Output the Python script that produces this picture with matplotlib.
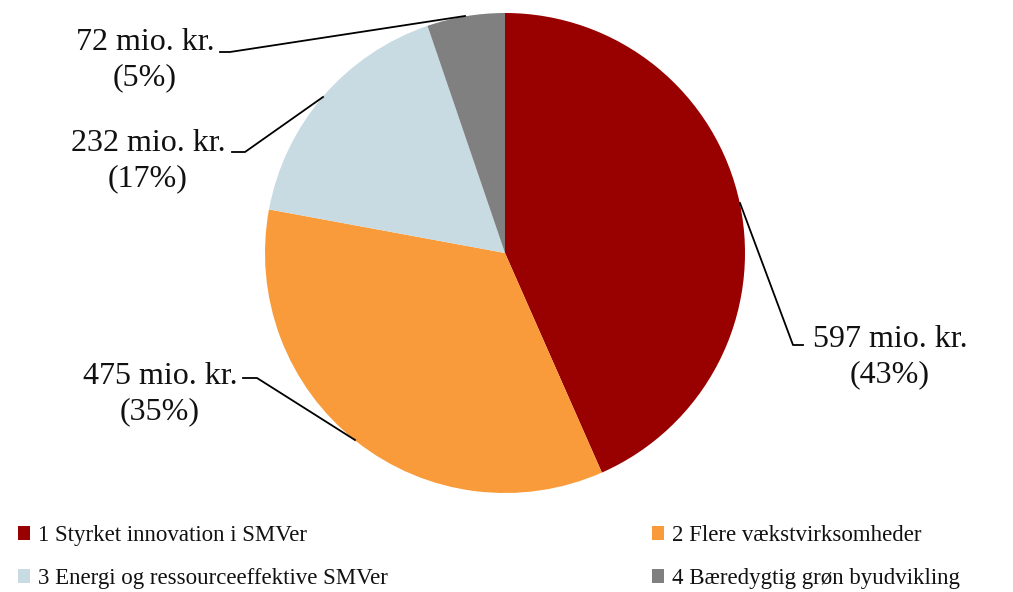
import numpy as np
import matplotlib.pyplot as plt

# data
labels = ["1 Styrket innovation i SMVer", "2 Flere vækstvirksomheder",
          "3 Energi og ressourceeffektive SMVer", "4 Bæredygtig grøn byudvikling"]
values = [597, 475, 232, 72]
pcts = [43, 35, 17, 5]
colors = ["#990000", "#F99B3A", "#C8DBE2", "#808080"]

W, H = 1013, 592
cx, cy, R = 505, 253, 240

fig = plt.figure(figsize=(W / 100, H / 100), dpi=100)
ax = fig.add_axes([(cx - R) / W, (H - cy - R) / H, 2 * R / W, 2 * R / H])
wedges, _ = ax.pie(values, colors=colors, startangle=90, counterclock=False,
                   radius=1, wedgeprops=dict(linewidth=0))
ax.set_xlim(-1, 1)
ax.set_ylim(-1, 1)
ax.axis("off")

def d(px, py):
    # pixel -> data coords
    return (px - cx) / R, (cy - py) / R

font = dict(family="Liberation Serif", fontsize=23, color="#111111")

# label positions (pixel): text anchor and leader line points
lab = [
    dict(text=(890, 357), line=[(740, 203), (793, 345), (803, 345)]),
    dict(text=(160, 394), line=[(355, 440), (257, 378), (243, 378)]),
    dict(text=(148, 161), line=[(323, 97), (245, 152), (232, 152)]),
    dict(text=(145, 60), line=[(465, 16), (230, 52), (220, 52)]),
]

for v, p, L in zip(values, pcts, lab):
    pts = np.array([d(*q) for q in L["line"]])
    ax.plot(pts[:, 0], pts[:, 1], color="black", lw=1.3, clip_on=False)
    tx, ty = d(*L["text"])
    ax.text(tx, ty, f"{v} mio. kr.\n({p}%)", ha="center", va="center",
            linespacing=1.28, clip_on=False, **font)

order = [0, 2, 1, 3]
leg = fig.legend([wedges[i] for i in order], [labels[i] for i in order],
                 ncol=2, loc="lower left", bbox_to_anchor=(-0.003, -0.03),
                 frameon=False, handlelength=0.55, handleheight=0.55,
                 handletextpad=0.35, columnspacing=11.5, labelspacing=0.95,
                 prop=dict(family="Liberation Serif", size=16.5))
for t in leg.get_texts():
    t.set_color("#111111")

fig.savefig("out.png", dpi=100)
